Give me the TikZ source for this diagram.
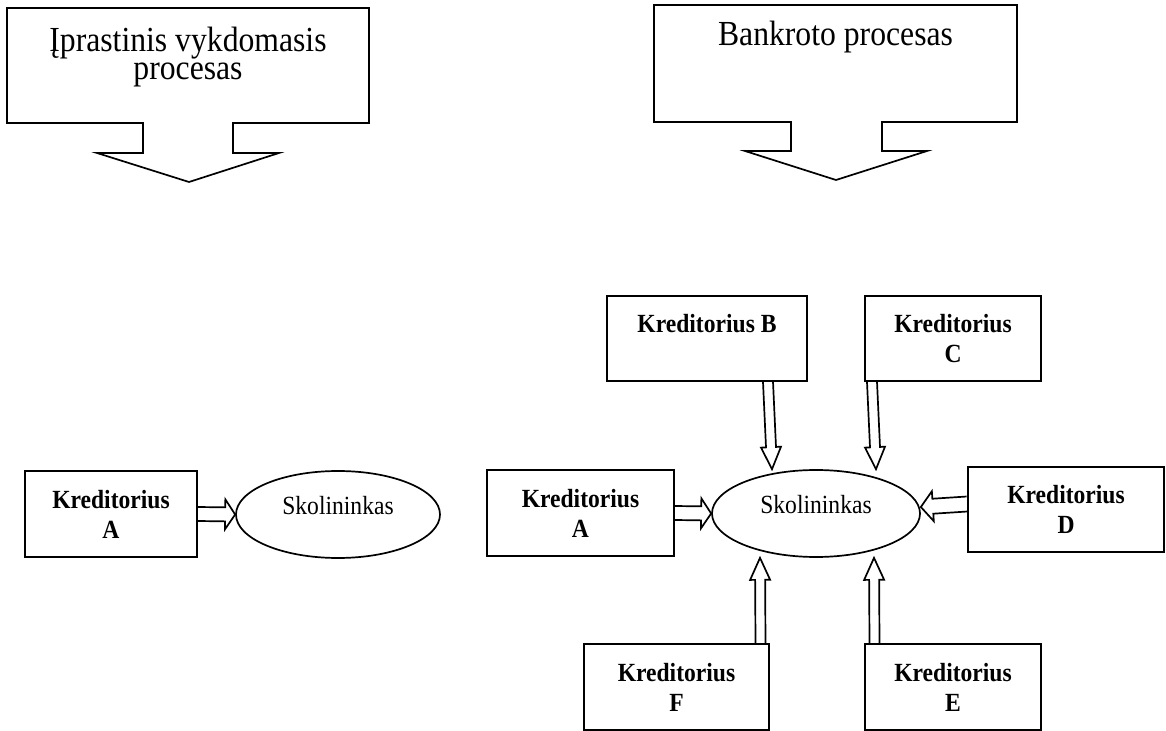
\documentclass[tikz,border=0pt]{standalone}
\usepackage{fontspec}
\setmainfont{Liberation Serif}[FakeStretch=0.9]
\usetikzlibrary{calc,shapes.geometric}

% hollow block arrow: start, tip, shaft half width, head half width, head length
\newcommand\blkarrow[5]{%
        \path ($(#2)!#5!(#1)$) coordinate (hb);
        \draw[blk] ($(#1)!#3!90:(#2)$) -- ($(hb)!#3!-90:(#1)$) -- ($(hb)!#4!-90:(#1)$) -- (#2)
                -- ($(hb)!#4!90:(#1)$) -- ($(hb)!#3!90:(#1)$) -- ($(#1)!#3!-90:(#2)$);
}

\begin{document}
\begin{tikzpicture}[x=0.5pt, y=-0.5pt,
        kbox/.style={draw, line width=0.85pt, align=center, inner sep=0pt,
                minimum height=42.5pt, font=\fontsize{13.1}{15}\selectfont\bfseries},
        oval/.style={draw, ellipse, line width=0.85pt, inner sep=0pt, minimum height=43.5pt,
                text height=9pt, text depth=9pt, font=\fontsize{13.1}{15}\selectfont},
        ttl/.style={align=center, inner sep=0pt, font=\fontsize{17.6}{14}\selectfont},
        blk/.style={draw, line width=0.85pt, line join=miter}]
        \useasboundingbox (0, 0) rectangle (1166, 731);

        % callouts
        \draw[line width=0.85pt, line join=miter] (7, 8) -- (369, 8) -- (369, 123) -- (233, 123)
                -- (233, 153) -- (279, 153) -- (189, 182) -- (97, 153) -- (143, 153)
                -- (143, 123) -- (7, 123) -- cycle;
        \node[ttl] (ipr) at (188, 56.8) {Įprastinis vykdomasis\\procesas};
        \draw[line width=0.85pt, line join=miter] (654, 5) -- (1017, 5) -- (1017, 122) -- (882, 122)
                -- (882, 151) -- (927, 151) -- (836, 180) -- (745, 151) -- (791, 151)
                -- (791, 122) -- (654, 122) -- cycle;
        \node[ttl, anchor=base] (bnk) at (835.5, 46) {Bankroto procesas};

        % left side
        \node[kbox, minimum width=86pt, minimum height=43pt] (ka1) at (111, 514) {Kreditorius\\A};
        \node[oval, minimum width=102pt] (sk1) at (338, 514.5) {Skolininkas};
        \blkarrow{ka1.east}{sk1.west}{3.5pt}{7.5pt}{5pt}

        % right side
        \node[oval, minimum width=104pt] (sk2) at (816, 513.5) {Skolininkas};
        \node[kbox, minimum width=93.5pt, minimum height=43pt] (ka2) at (580.5, 513) {Kreditorius\\A};
        \node[kbox, minimum width=100pt] (kb) at (707, 338.5) {Kreditorius B\\\mbox{}};
        \node[kbox, minimum width=88pt] (kc) at (953, 338.5) {Kreditorius\\C};
        \node[kbox, minimum width=98pt] (kd) at (1066, 509.5) {Kreditorius\\D};
        \node[kbox, minimum width=88pt, minimum height=43pt] (ke) at (953, 687) {Kreditorius\\E};
        \node[kbox, minimum width=92.5pt, minimum height=43pt] (kf) at (676.5, 687) {Kreditorius\\F};

        \coordinate (b0) at ([xshift=30.5pt]kb.south);
        \coordinate (b1) at ([xshift=-22pt]sk2.north);
        \coordinate (c0) at ([xshift=-40.5pt]kc.south);
        \coordinate (c1) at ([xshift=30pt]sk2.north);
        \coordinate (d0) at ([yshift=2.75pt]kd.west);
        \coordinate (d1) at ([yshift=3.25pt]sk2.east);
        \coordinate (e0) at ([xshift=-39.25pt]ke.north);
        \coordinate (e1) at ([xshift=29pt]sk2.south);
        \coordinate (f0) at ([xshift=42pt]kf.north);
        \coordinate (f1) at ([xshift=-28pt]sk2.south);

        \blkarrow{ka2.east}{sk2.west}{3.5pt}{7.5pt}{5pt}
        \blkarrow{b0}{b1}{2.5pt}{5pt}{11pt}
        \blkarrow{c0}{c1}{2.5pt}{5pt}{11pt}
        \blkarrow{d0}{d1}{3.75pt}{7.5pt}{6pt}
        \blkarrow{e0}{e1}{2.5pt}{5pt}{11pt}
        \blkarrow{f0}{f1}{2.5pt}{5pt}{11pt}
\end{tikzpicture}
\end{document}
